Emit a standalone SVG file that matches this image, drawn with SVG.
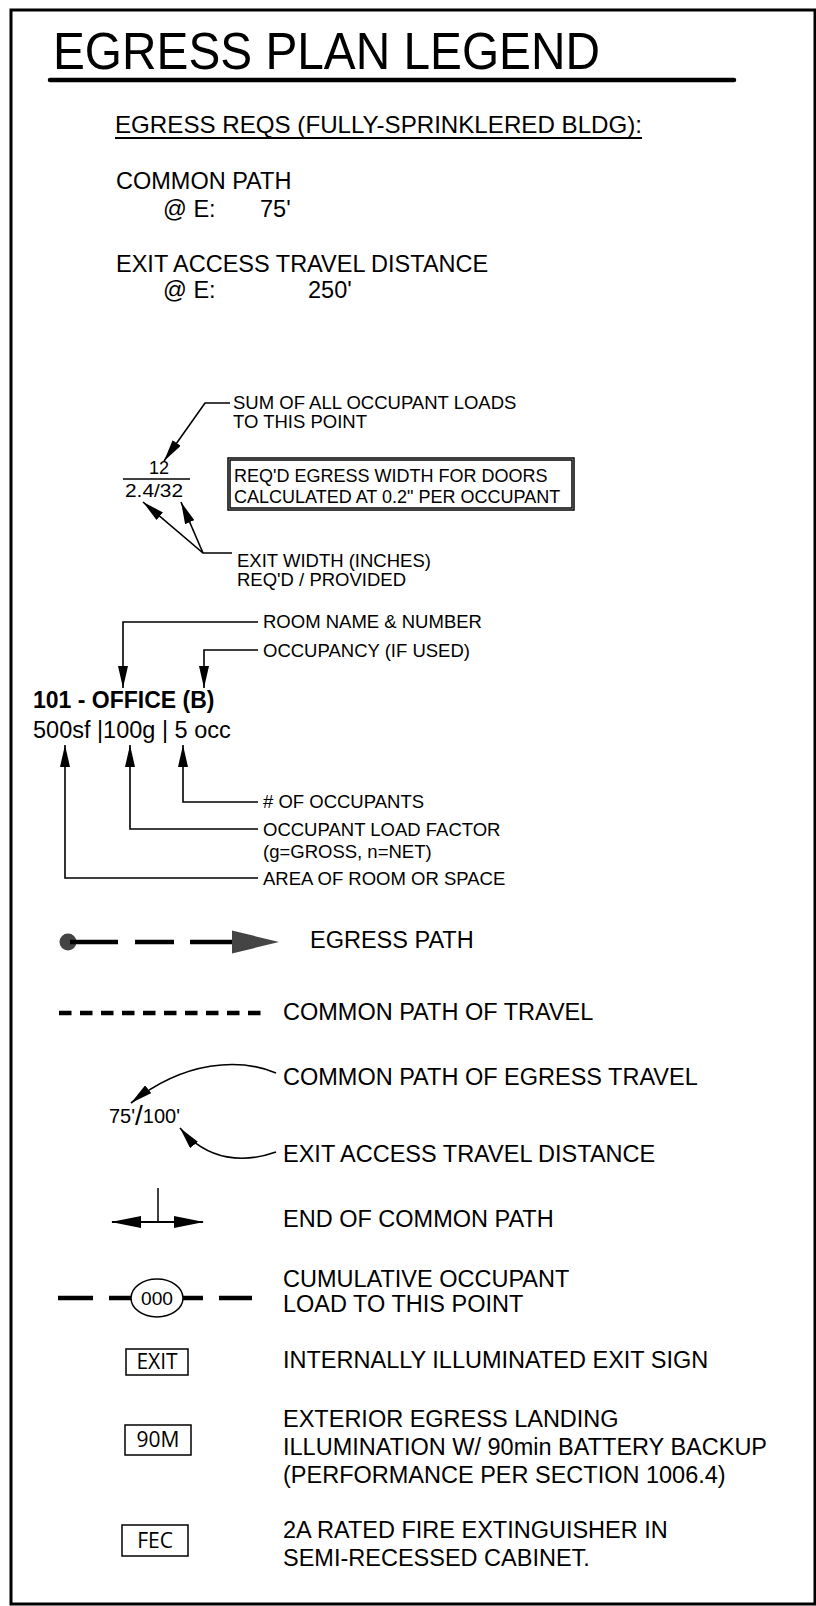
<svg xmlns="http://www.w3.org/2000/svg" width="816" height="1606" viewBox="0 0 816 1606">
<defs>
<style>
text{font-family:"Liberation Sans",Arial,sans-serif;fill:#000}
.lbl{font-size:23.5px}
.ann{font-size:18.5px}
.box{font-family:"Open Sans","Liberation Sans",sans-serif;font-size:21px}
.ld{fill:none;stroke:#000;stroke-width:1.6}
.thin{fill:none;stroke:#000;stroke-width:1.5}
.dash{stroke:#000;stroke-width:4.5;fill:none}
</style>
<marker id="ah" viewBox="0 0 22 10" refX="22" refY="5" markerWidth="22" markerHeight="10" markerUnits="userSpaceOnUse" orient="auto"><path d="M0,0 L22,5 L0,10 z" fill="#000"/></marker>
</defs>
<rect x="11" y="10" width="804" height="1594" fill="#fff" stroke="#000" stroke-width="3"/>

<g id="title">
<text x="53" y="69" font-size="51" textLength="547" lengthAdjust="spacingAndGlyphs">EGRESS PLAN LEGEND</text>
<line x1="50" y1="80" x2="734" y2="80" stroke="#000" stroke-width="4.5" stroke-linecap="round"/>
</g>

<g id="reqs">
<text x="115" y="133" font-size="24" textLength="527" lengthAdjust="spacingAndGlyphs">EGRESS REQS (FULLY-SPRINKLERED BLDG):</text>
<line x1="115" y1="138" x2="642" y2="138" stroke="#000" stroke-width="2"/>
<text class="lbl" x="116" y="189">COMMON PATH</text>
<text class="lbl" x="163" y="217">@ E:</text>
<text class="lbl" x="260" y="217">75'</text>
<text class="lbl" x="116" y="272">EXIT ACCESS TRAVEL DISTANCE</text>
<text class="lbl" x="163" y="298">@ E:</text>
<text class="lbl" x="308" y="298">250'</text>
</g>

<g id="fraction">
<text x="159" y="474" font-size="18" text-anchor="middle">12</text>
<line x1="123" y1="479" x2="190" y2="479" stroke="#000" stroke-width="1.5"/>
<text x="125" y="497" font-size="18" textLength="58" lengthAdjust="spacingAndGlyphs">2.4/32</text>
</g>

<g id="note-sum">
<text class="ann" x="233" y="409">SUM OF ALL OCCUPANT LOADS</text>
<text class="ann" x="233" y="428">TO THIS POINT</text>
</g>

<g id="note-box">
<rect x="228" y="458" width="346" height="52" class="thin" stroke-width="1"/>
<rect x="230" y="460" width="342" height="48" class="thin" stroke-width="0.8"/>
<text x="234" y="482" font-size="18">REQ'D EGRESS WIDTH FOR DOORS</text>
<text x="234" y="503" font-size="18">CALCULATED AT 0.2" PER OCCUPANT</text>
</g>

<g id="note-width">
<text class="ann" x="237" y="567">EXIT WIDTH (INCHES)</text>
<text class="ann" x="237" y="586">REQ'D / PROVIDED</text>
</g>

<g id="room-tag">
<text x="33" y="708" font-size="23" font-weight="bold">101 - OFFICE (B)</text>
<text x="33" y="738" font-size="23.5">500sf |100g | 5 occ</text>
</g>

<g id="room-notes">
<text class="ann" x="263" y="628">ROOM NAME &amp; NUMBER</text>
<text class="ann" x="263" y="657">OCCUPANCY (IF USED)</text>
<text class="ann" x="263" y="808"># OF OCCUPANTS</text>
<text class="ann" x="263" y="836">OCCUPANT LOAD FACTOR</text>
<text class="ann" x="263" y="858">(g=GROSS, n=NET)</text>
<text class="ann" x="263" y="885">AREA OF ROOM OR SPACE</text>
</g>

<g id="connectors">
<polyline class="ld" points="230,403 205,403 164,461" marker-end="url(#ah)"/>
<polyline class="ld" points="232,553 203,553 143,502" marker-end="url(#ah)"/>
<polyline class="ld" points="203,553 181,502" marker-end="url(#ah)"/>
<polyline class="ld" points="258,622 123,622 123,688" marker-end="url(#ah)"/>
<polyline class="ld" points="258,650 204,650 204,688" marker-end="url(#ah)"/>
<polyline class="ld" points="258,802 183,802 183,745" marker-end="url(#ah)"/>
<polyline class="ld" points="258,829 130,829 130,745" marker-end="url(#ah)"/>
<polyline class="ld" points="258,878 65,878 65,745" marker-end="url(#ah)"/>
<path class="ld" d="M276,1073 C240,1058 185,1060 131,1103" marker-end="url(#ah)"/>
<path class="ld" d="M276,1152 C245,1163 208,1162 180,1128" marker-end="url(#ah)"/>
</g>

<g id="egress-path">
<circle cx="68" cy="942" r="8.5" fill="#444"/>
<line x1="70" y1="942" x2="118" y2="942" class="dash" stroke-width="4"/>
<line x1="135" y1="942" x2="174" y2="942" class="dash" stroke-width="4"/>
<line x1="190" y1="942" x2="234" y2="942" class="dash" stroke-width="4"/>
<polygon points="232,930.5 279,942 232,953.5" fill="#444"/>
<text class="lbl" x="310" y="948">EGRESS PATH</text>
</g>

<g id="common-path">
<line x1="59" y1="1013" x2="265" y2="1013" class="dash" stroke-width="4" stroke-dasharray="12.5 8.5"/>
<text class="lbl" x="283" y="1020">COMMON PATH OF TRAVEL</text>
</g>

<g id="travel-distance">
<text x="109" y="1123" font-size="20">75'<tspan font-size="28" dy="2">/</tspan><tspan dy="-2">100'</tspan></text>
<text class="lbl" x="283" y="1085">COMMON PATH OF EGRESS TRAVEL</text>
<text class="lbl" x="283" y="1162">EXIT ACCESS TRAVEL DISTANCE</text>
</g>

<g id="end-common-path">
<line x1="158" y1="1188" x2="158" y2="1222" stroke="#000" stroke-width="1.5"/>
<line x1="112" y1="1222" x2="203" y2="1222" stroke="#000" stroke-width="1.8"/>
<polygon points="111,1222 141,1216 141,1228" fill="#000"/>
<polygon points="204,1222 174,1216 174,1228" fill="#000"/>
<text class="lbl" x="283" y="1227">END OF COMMON PATH</text>
</g>

<g id="cumulative-load">
<line x1="58" y1="1298" x2="93" y2="1298" class="dash"/>
<line x1="109" y1="1298" x2="131" y2="1298" class="dash"/>
<line x1="183" y1="1298" x2="203" y2="1298" class="dash"/>
<line x1="219" y1="1298" x2="252" y2="1298" class="dash"/>
<ellipse cx="157" cy="1298" rx="26" ry="19" fill="#fff" stroke="#000" stroke-width="1.5"/>
<text x="157" y="1305" font-size="19" text-anchor="middle" textLength="32" lengthAdjust="spacingAndGlyphs">000</text>
<text class="lbl" x="283" y="1287">CUMULATIVE OCCUPANT</text>
<text class="lbl" x="283" y="1312">LOAD TO THIS POINT</text>
</g>

<g id="exit-sign">
<rect x="126" y="1349" width="62" height="26" class="thin"/>
<text class="box" x="157" y="1369" text-anchor="middle">EXIT</text>
<text class="lbl" x="283" y="1368">INTERNALLY ILLUMINATED EXIT SIGN</text>
</g>

<g id="landing-light">
<rect x="125" y="1425" width="66" height="30" class="thin"/>
<text class="box" x="158" y="1447" text-anchor="middle">90M</text>
<text class="lbl" x="283" y="1427">EXTERIOR EGRESS LANDING</text>
<text class="lbl" x="283" y="1455">ILLUMINATION W/ 90min BATTERY BACKUP</text>
<text class="lbl" x="283" y="1483">(PERFORMANCE PER SECTION 1006.4)</text>
</g>

<g id="extinguisher">
<rect x="122" y="1525" width="66" height="31" class="thin"/>
<text class="box" x="155" y="1548" text-anchor="middle">FEC</text>
<text class="lbl" x="283" y="1538">2A RATED FIRE EXTINGUISHER IN</text>
<text class="lbl" x="283" y="1566">SEMI-RECESSED CABINET.</text>
</g>
</svg>
